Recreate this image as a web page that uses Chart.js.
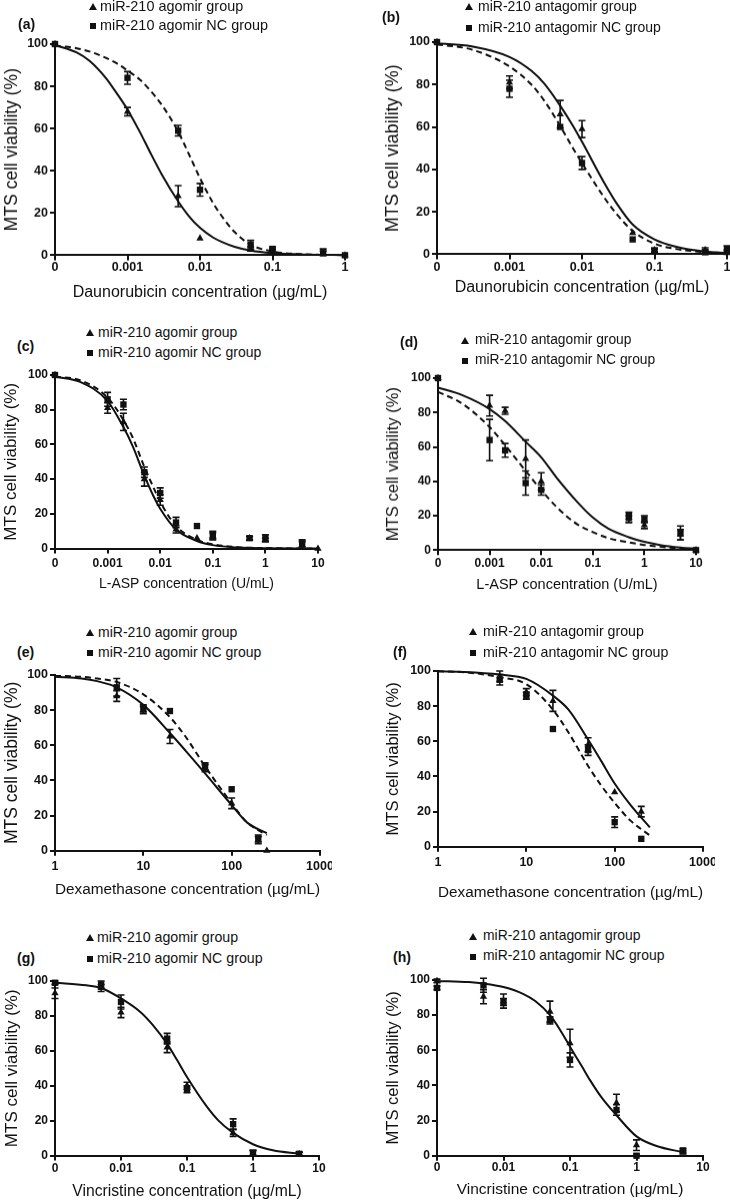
<!DOCTYPE html>
<html>
<head>
<meta charset="utf-8">
<script src="https://cdn.jsdelivr.net/npm/chart.js@4.4.1/dist/chart.umd.min.js"></script>
<style>
  html, body { margin: 0; padding: 0; background: #fff; overflow: hidden; }
  body { width: 730px; height: 1202px; position: relative; font-family: "Liberation Sans", Arial, sans-serif; color: #111; }
  canvas { position: absolute; }
  .lab { position: absolute; font-weight: bold; font-size: 14px; line-height: 14px; }
  .leg { position: absolute; line-height: 1; white-space: nowrap; }
  .tri { position: absolute; width: 0; height: 0; border-left: 4px solid transparent; border-right: 4px solid transparent; border-bottom: 7px solid #111; }
  .sq { position: absolute; width: 6px; height: 6px; background: #111; }
</style>
</head>
<body>
<script>
// ---- data ----
const yTitle = "MTS cell viability (%)";
const agoNames = ["miR-210 agomir group", "miR-210 agomir NC group"];
const antaNames = ["miR-210 antagomir group", "miR-210 antagomir NC group"];

// (a) Daunorubicin, agomir
const aX = [0, 0.001, 0.005, 0.01, 0.05, 0.1, 0.5, 1];
const aAgo = [100, 68, 28, 8, 3, 2, 1, 0];
const aAgoErr = [0, 2, 5, 0, 1, 1, 1, 0];
const aNC = [100, 84, 59, 31, 5, 3, 1, 0];
const aNCErr = [0, 3, 2.5, 3, 2, 1, 2, 0];
const aFitX = [0.0001, 0.0002, 0.0003, 0.0005, 0.0007, 0.001, 0.0015, 0.002, 0.003, 0.005, 0.007, 0.01, 0.015, 0.02, 0.03, 0.05, 0.1, 0.3, 1];
const aAgoFit = [99.5, 96, 92, 84, 77, 69, 58, 49.5, 38, 25.5, 18.6, 13, 8.5, 6.3, 4, 2.2, 1, 0.3, 0.1];
const aNCFit = [99.3, 98, 96.5, 93.5, 91, 87.5, 83, 78.5, 71, 58.5, 48, 36.5, 25, 18.5, 11, 5, 1.8, 0.4, 0.1];
const aTicks = [0, 0.001, 0.01, 0.1, 1];
const aTickLabels = ["0", "0.001", "0.01", "0.1", "1"];

// (b) Daunorubicin, antagomir
const bX = [0, 0.001, 0.005, 0.01, 0.05, 0.1, 0.5, 1];
const bAnta = [100, 81, 66, 59, 10, 2, 2, 1];
const bAntaErr = [0, 3, 6.5, 4, 0, 1, 1, 1];
const bNC = [100, 78, 60, 43, 7, 1.5, 1, 2.5];
const bNCErr = [0, 4, 0, 3, 0, 1, 1, 1.5];
const bFitX = [0.0001, 0.0003, 0.001, 0.002, 0.003, 0.005, 0.0075, 0.01, 0.02, 0.03, 0.05, 0.1, 0.2, 0.5, 1];
const bAntaFit = [99.4, 98, 93, 86.5, 80.5, 70, 60.5, 53, 34, 24, 14, 7, 3.5, 1.3, 0.6];
const bNCFit = [98.9, 96.5, 88.5, 80, 72.5, 60.5, 50, 43, 27, 19, 11, 5, 2.5, 1, 0.5];
const bTicks = [0, 0.001, 0.01, 0.1, 1];
const bTickLabels = ["0", "0.001", "0.01", "0.1", "1"];

// (c) L-ASP, agomir
const cX = [0, 0.001, 0.002, 0.005, 0.01, 0.02, 0.05, 0.1, 0.5, 1, 5, 10];
const cAgo = [100, 81, 73, 40, 28, 11, 6, 7, 6, 5, 2, 0];
const cAgoErr = [0, 3, 5, 4, 3, 2, 0, 2, 1, 1, 2, 0];
const cNC = [100, 86, 83, 44, 32, 15, 13, 8, 6, 6, 3, null];
const cNCErr = [0, 4, 3, 3, 3, 3, 0, 2, 1, 2, 2, 0];
const cFitX = [0.0001, 0.0003, 0.001, 0.002, 0.003, 0.005, 0.0075, 0.01, 0.02, 0.05, 0.1, 0.3, 1, 10];
const cAgoFit = [99, 96, 85, 70, 59, 42, 30, 23, 11, 4.4, 2, 0.6, 0.2, 0];
const cNCFit = [99, 97, 87, 74, 64, 47, 35, 27, 13, 5, 2.5, 0.8, 0.3, 0];
const cTicks = [0, 0.001, 0.01, 0.1, 1, 10];
const cTickLabels = ["0", "0.001", "0.01", "0.1", "1", "10"];

// (d) L-ASP, antagomir
const dX = [0, 0.001, 0.002, 0.005, 0.01, 0.5, 1, 5, 10];
const dAnta = [100, 84, 81, 53, 40, 18, 14.5, 9, 0];
const dAntaErr = [0, 6, 2, 11, 5, 2, 2, 3, 0];
const dNC = [100, 64, 58, 39, 35, 20, 18, 10, 0];
const dNCErr = [0, 12, 4, 7, 3, 2, 2, 4, 0];
const dFitX = [0.0001, 0.0003, 0.001, 0.002, 0.005, 0.01, 0.02, 0.05, 0.1, 0.2, 0.5, 1, 2, 5, 10];
const dAntaFit = [94.5, 90, 82, 75, 63, 54, 42, 28, 19, 12.5, 7.5, 4.8, 3, 1.5, 0.8];
const dNCFit = [92, 85, 71.5, 61, 46, 35, 25, 15, 10.5, 7, 4.5, 3, 2, 1, 0.5];
const dTicks = [0, 0.001, 0.01, 0.1, 1, 10];
const dTickLabels = ["0", "0.001", "0.01", "0.1", "1", "10"];

// (e) Dexamethasone, agomir
const eX = [5, 10, 20, 50, 100, 200, 250];
const eAgo = [88, 80, 65, 47, 27, 6, 0];
const eAgoErr = [3, 2, 4, 2, 3, 2, 0];
const eNC = [93, 81, 79.5, 48, 35, 7, null];
const eNCErr = [5, 2, 0, 2, 0, 2, 0];
const eFitX = [1, 2, 3, 5, 10, 20, 30, 50, 100, 150, 250];
const eAgoFit = [99, 98, 96.5, 93, 83, 67, 57, 44, 26, 16, 10];
const eNCFit = [99.5, 99, 98, 96, 89, 76, 65, 48, 27, 16, 9];
const eTicks = [1, 10, 100, 1000];
const eTickLabels = ["1", "10", "100", "1000"];

// (f) Dexamethasone, antagomir
const fX = [5, 10, 20, 50, 100, 200];
const fAnta = [97, 88, 83, 58, 31, 20];
const fAntaErr = [3, 2, 6, 4, 0, 3];
const fNC = [95, 86, 67, 55, 14, 4.5];
const fNCErr = [3, 2, 0, 3, 3, 0];
const fFitX = [1, 2, 5, 10, 20, 30, 50, 70, 100, 150, 250];
const fAntaFit = [99.8, 99.5, 98, 95.5, 86, 78, 61, 49, 36, 24, 11];
const fNCFit = [99.8, 99.3, 96.5, 92.5, 78, 65, 46, 35, 25, 15, 6.5];
const fTicks = [1, 10, 100, 1000];
const fTickLabels = ["1", "10", "100", "1000"];

// (g) Vincristine, agomir
const gX = [0, 0.005, 0.01, 0.05, 0.1, 0.5, 1, 5];
const gAgo = [93, 96, 82, 62, 40, 13, 1, 1];
const gAgoErr = [3, 2, 3, 3, 2, 2, 2, 1];
const gNC = [99, 98, 88, 67, 38, 18, 1, 1];
const gNCErr = [1, 2, 4, 3, 2, 3, 2, 1];
const gFitX = [0.001, 0.003, 0.005, 0.01, 0.02, 0.03, 0.05, 0.07, 0.1, 0.2, 0.3, 0.5, 1, 2, 5];
const gFit = [99, 97.5, 96, 90, 82, 75, 64, 55, 45, 28, 20, 13, 6.5, 3, 1];
const gTicks = [0, 0.01, 0.1, 1, 10];
const gTickLabels = ["0", "0.01", "0.1", "1", "10"];

// (h) Vincristine, antagomir
const hX = [0, 0.005, 0.01, 0.05, 0.1, 0.5, 1, 5];
const hAnta = [99.5, 90.5, 88, 82, 64, 30, 6, 2];
const hAntaErr = [1, 4, 4, 6, 8, 5, 3, 1];
const hNC = [95.5, 97, 87.5, 77, 54.5, 26, 0, 3];
const hNCErr = [1, 4, 2, 2, 4, 3, 1, 1];
const hFitX = [0.001, 0.003, 0.005, 0.01, 0.02, 0.03, 0.05, 0.07, 0.1, 0.15, 0.2, 0.3, 0.5, 1, 2, 5];
const hFit = [99.5, 98.8, 98, 96, 92, 88, 80, 72, 62, 51, 43, 33, 23, 11, 5.5, 2];
const hTicks = [0, 0.01, 0.1, 1, 10];
const hTickLabels = ["0", "0.01", "0.1", "1", "10"];

// ---- panels: layout in page pixels ----
const FONT = "'Liberation Sans', Arial, sans-serif";
const INK = "#111";

const panels = [
  { tag: "(a)", col: 0, L: 55, R: 345, T: 44, B: 255, tickY: 267, titleY: 292, yTitleX: 12, xFs: 16, yFs: 17.5, tickFs: 12.5,
    xTitle: "Daunorubicin concentration (µg/mL)", zero: 1e-4, xMin: 1e-4, xMax: 1, ticks: aTicks, tickLabels: aTickLabels,
    groups: [{ x: aX, y: aAgo, e: aAgoErr }, { x: aX, y: aNC, e: aNCErr }],
    fits: [{ x: aFitX, y: aAgoFit, dash: false }, { x: aFitX, y: aNCFit, dash: true }],
    names: agoNames, leg: { cx: 93, tx: 100, y1: 7, y2: 26, fs: 14.4 }, lab: { x: 18, y: 25 } },
  { tag: "(b)", col: 365, L: 437, R: 727, T: 42, B: 254, tickY: 267, titleY: 287, yTitleX: 393, xFs: 16, yFs: 18, tickFs: 12.5,
    xTitle: "Daunorubicin concentration (µg/mL)", zero: 1e-4, xMin: 1e-4, xMax: 1, ticks: bTicks, tickLabels: bTickLabels,
    groups: [{ x: bX, y: bAnta, e: bAntaErr }, { x: bX, y: bNC, e: bNCErr }],
    fits: [{ x: bFitX, y: bAntaFit, dash: false }, { x: bFitX, y: bNCFit, dash: true }],
    names: antaNames, leg: { cx: 469, tx: 478, y1: 7, y2: 28, fs: 14 }, lab: { x: 382, y: 18 } },
  { tag: "(c)", col: 0, L: 55, R: 318, T: 375, B: 549, tickY: 564, titleY: 585, yTitleX: 11, xFs: 14, yFs: 17, tickFs: 12,
    xTitle: "L-ASP concentration (U/mL)", zero: 1e-4, xMin: 1e-4, xMax: 10, ticks: cTicks, tickLabels: cTickLabels,
    groups: [{ x: cX, y: cAgo, e: cAgoErr }, { x: cX, y: cNC, e: cNCErr }],
    fits: [{ x: cFitX, y: cAgoFit, dash: false }, { x: cFitX, y: cNCFit, dash: true }],
    names: agoNames, leg: { cx: 90, tx: 98, y1: 333, y2: 353, fs: 14 }, lab: { x: 17, y: 347 } },
  { tag: "(d)", col: 365, L: 438, R: 696, T: 378, B: 550, tickY: 563, titleY: 585, yTitleX: 393, xFs: 14.5, yFs: 16.5, tickFs: 12,
    xTitle: "L-ASP concentration (U/mL)", zero: 1e-4, xMin: 1e-4, xMax: 10, ticks: dTicks, tickLabels: dTickLabels,
    groups: [{ x: dX, y: dAnta, e: dAntaErr }, { x: dX, y: dNC, e: dNCErr }],
    fits: [{ x: dFitX, y: dAntaFit, dash: false }, { x: dFitX, y: dNCFit, dash: true }],
    names: antaNames, leg: { cx: 465, tx: 475, y1: 341, y2: 361, fs: 13.8 }, lab: { x: 400, y: 343 } },
  { tag: "(e)", col: 0, L: 55, R: 320, T: 675, B: 851, tickY: 867, titleY: 890, yTitleX: 12, xFs: 15.4, yFs: 17.5, tickFs: 12.5,
    xTitle: "Dexamethasone concentration (µg/mL)", zero: 1, xMin: 1, xMax: 1000, ticks: eTicks, tickLabels: eTickLabels,
    groups: [{ x: eX, y: eAgo, e: eAgoErr }, { x: eX, y: eNC, e: eNCErr }],
    fits: [{ x: eFitX, y: eAgoFit, dash: false }, { x: eFitX, y: eNCFit, dash: true }],
    names: agoNames, leg: { cx: 90, tx: 98, y1: 633, y2: 653, fs: 14 }, lab: { x: 17, y: 653 } },
  { tag: "(f)", col: 365, L: 438, R: 703, T: 671, B: 847, tickY: 863, titleY: 893, yTitleX: 393, xFs: 15.4, yFs: 16.5, tickFs: 12.5,
    xTitle: "Dexamethasone concentration (µg/mL)", zero: 1, xMin: 1, xMax: 1000, ticks: fTicks, tickLabels: fTickLabels,
    groups: [{ x: fX, y: fAnta, e: fAntaErr }, { x: fX, y: fNC, e: fNCErr }],
    fits: [{ x: fFitX, y: fAntaFit, dash: false }, { x: fFitX, y: fNCFit, dash: true }],
    names: antaNames, leg: { cx: 473, tx: 483, y1: 632, y2: 653, fs: 14.2 }, lab: { x: 393, y: 653 } },
  { tag: "(g)", col: 0, L: 55, R: 319, T: 981, B: 1156, tickY: 1169, titleY: 1192, yTitleX: 12, xFs: 15.7, yFs: 17, tickFs: 12,
    xTitle: "Vincristine concentration (µg/mL)", zero: 1e-3, xMin: 1e-3, xMax: 10, ticks: gTicks, tickLabels: gTickLabels,
    groups: [{ x: gX, y: gAgo, e: gAgoErr }, { x: gX, y: gNC, e: gNCErr }],
    fits: [{ x: gFitX, y: gFit, dash: false }],
    names: agoNames, leg: { cx: 90, tx: 97, y1: 938, y2: 959, fs: 14.2 }, lab: { x: 17, y: 959 } },
  { tag: "(h)", col: 365, L: 437, R: 703, T: 980, B: 1156, tickY: 1168, titleY: 1190, yTitleX: 393, xFs: 15.5, yFs: 16.5, tickFs: 12,
    xTitle: "Vincristine concentration (µg/mL)", zero: 1e-3, xMin: 1e-3, xMax: 10, ticks: hTicks, tickLabels: hTickLabels,
    groups: [{ x: hX, y: hAnta, e: hAntaErr }, { x: hX, y: hNC, e: hNCErr }],
    fits: [{ x: hFitX, y: hFit, dash: false }],
    names: antaNames, leg: { cx: 473, tx: 483, y1: 937, y2: 957, fs: 13.9 }, lab: { x: 393, y: 958 } }
];

// error bars drawn through the y scale
const errorBars = {
  id: "errorBars",
  afterDatasetsDraw(chart) {
    const ctx = chart.ctx;
    const ys = chart.scales.y;
    chart.data.datasets.forEach((ds, di) => {
      if (!ds.isGroup) return;
      const meta = chart.getDatasetMeta(di);
      ds.data.forEach((d, i) => {
        if (d.y === null || !d.e) return;
        const el = meta.data[i];
        const x = el.x;
        const y1 = ys.getPixelForValue(d.y + d.e);
        const y2 = ys.getPixelForValue(Math.max(0, d.y - d.e));
        ctx.save();
        ctx.strokeStyle = INK;
        ctx.lineWidth = 1.6;
        ctx.beginPath();
        ctx.moveTo(x, y1); ctx.lineTo(x, y2);
        ctx.moveTo(x - 3.5, y1); ctx.lineTo(x + 3.5, y1);
        ctx.moveTo(x - 3.5, y2); ctx.lineTo(x + 3.5, y2);
        ctx.stroke();
        ctx.restore();
      });
    });
  }
};

function addLegend(p) {
  const rows = [p.leg.y1, p.leg.y2];
  rows.forEach((cy, i) => {
    const m = document.createElement("div");
    if (i === 0) {
      m.className = "tri";
      m.style.left = (p.leg.cx - 4) + "px";
      m.style.top = (cy - 4) + "px";
    } else {
      m.className = "sq";
      m.style.left = (p.leg.cx - 3) + "px";
      m.style.top = (cy - 3) + "px";
    }
    document.body.appendChild(m);
    const t = document.createElement("div");
    t.className = "leg";
    t.textContent = p.names[i];
    t.style.fontSize = p.leg.fs + "px";
    t.style.left = p.leg.tx + "px";
    t.style.top = (cy - p.leg.fs / 2 - 1) + "px";
    document.body.appendChild(t);
  });
  const lab = document.createElement("div");
  lab.className = "lab";
  lab.textContent = p.tag;
  lab.style.left = p.lab.x + "px";
  lab.style.top = (p.lab.y - 8) + "px";
  document.body.appendChild(lab);
}

function makePanel(p) {
  const padTop = 12, padRight = 12, tickLen = 5;
  const xLh = p.xFs * 1.2, yLh = p.yFs * 1.2;
  const bh = p.titleY - p.B + xLh / 2;
  const yw = p.L - p.col;
  const w = p.R - p.col + padRight;
  const h = padTop + (p.B - p.T) + bh;

  const c = document.createElement("canvas");
  c.width = w; c.height = h;
  c.style.left = p.col + "px";
  c.style.top = (p.T - padTop) + "px";
  c.style.width = w + "px";
  c.style.height = h + "px";
  document.body.appendChild(c);

  const pos = v => (v === 0 ? p.zero : v);
  const datasets = [];
  p.groups.forEach((g, gi) => {
    datasets.push({
      isGroup: true,
      data: g.x.map((x, i) => ({ x: pos(x), y: g.y[i], e: g.e[i] })),
      pointStyle: gi === 0 ? "triangle" : "rect",
      pointRadius: gi === 0 ? 4.2 : 4.5,
      backgroundColor: INK,
      borderColor: INK,
      borderWidth: 0,
      showLine: false,
      clip: false
    });
  });
  p.fits.forEach(f => {
    datasets.push({
      data: f.x.map((x, i) => ({ x: x, y: f.y[i] })),
      showLine: true,
      borderColor: INK,
      borderWidth: 2,
      borderDash: f.dash ? [6, 4] : [],
      pointRadius: 0,
      cubicInterpolationMode: "monotone",
      fill: false,
      clip: false
    });
  });

  new Chart(c, {
    type: "scatter",
    data: { datasets },
    plugins: [errorBars],
    options: {
      responsive: false,
      animation: false,
      devicePixelRatio: 1,
      layout: { autoPadding: false, padding: { top: padTop, right: padRight, left: 0, bottom: 0 } },
      plugins: { legend: { display: false }, tooltip: { enabled: false } },
      scales: {
        x: {
          type: "logarithmic",
          min: p.xMin,
          max: p.xMax,
          afterBuildTicks: s => { s.ticks = p.ticks.map(v => ({ value: pos(v) })); },
          afterFit: s => { s.height = bh; s.paddingLeft = 0; s.paddingRight = 0; },
          ticks: {
            autoSkip: false, maxRotation: 0, minRotation: 0,
            padding: Math.max(0, p.tickY - p.B - tickLen - p.tickFs * 0.6),
            font: { family: FONT, size: p.tickFs, weight: "bold" },
            color: INK,
            callback: (v, i) => p.tickLabels[i]
          },
          grid: { drawOnChartArea: false, drawTicks: true, tickLength: tickLen, lineWidth: 2, color: INK },
          border: { display: true, color: INK, width: 2 },
          title: { display: true, text: p.xTitle, color: INK, font: { family: FONT, size: p.xFs }, padding: { top: 0, bottom: 0 } }
        },
        y: {
          min: 0,
          max: 100,
          afterFit: s => { s.width = yw; s.paddingTop = 0; s.paddingBottom = 0; },
          ticks: { stepSize: 20, padding: 2, color: INK, font: { family: FONT, size: p.tickFs, weight: "bold" } },
          grid: { drawOnChartArea: false, drawTicks: true, tickLength: tickLen, lineWidth: 2, color: INK },
          border: { display: true, color: INK, width: 2 },
          title: { display: true, text: yTitle, color: INK, font: { family: FONT, size: p.yFs },
                   padding: { top: p.yTitleX - p.col - yLh / 2, bottom: 0 } }
        }
      }
    }
  });
  addLegend(p);
}

panels.forEach(makePanel);
</script>
</body>
</html>
